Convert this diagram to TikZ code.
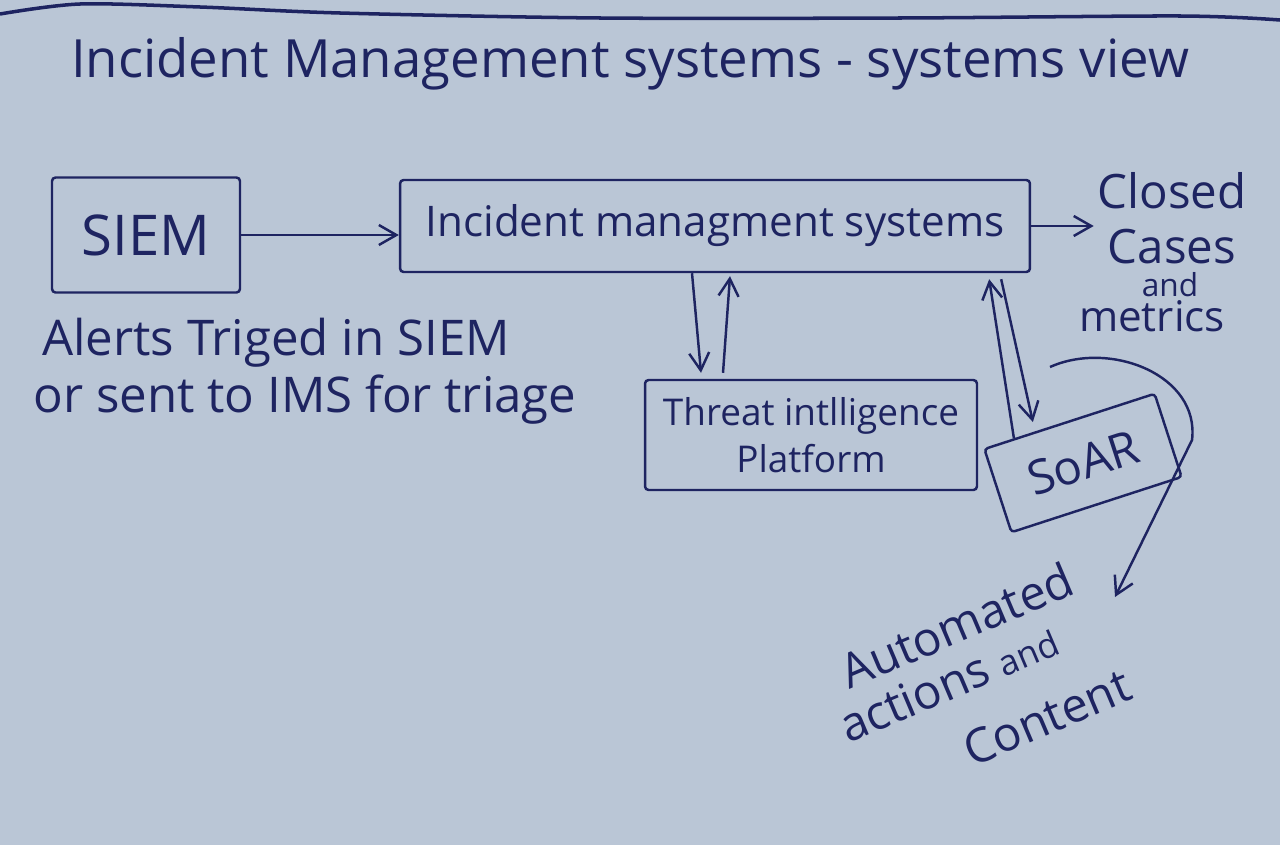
\documentclass[tikz,border=0pt]{standalone}
\usepackage{fontspec}
\setmainfont{Open Sans}
\usepackage{xcolor}
\definecolor{cBoard}{HTML}{BAC6D6}
\definecolor{cInk}{HTML}{1E2461}
\usepackage{tikz}
\usetikzlibrary{positioning,arrows.meta,calc}
\newcommand{\fsz}[2]{\fontsize{#1}{#2}\selectfont}
\tikzset{
  ink/.style={draw=cInk,line width=1.4pt},
  node-box/.style={ink,rounded corners=2pt,align=center,text=cInk,inner sep=0pt},
  note/.style={text=cInk,align=center,inner sep=0pt},
  arrow/.style={ink,-{Straight Barb[length=3.5mm,width=4mm]}},
}

\begin{document}
\begin{tikzpicture}[x=0.02cm,y=-0.02cm]
  \fill[cBoard] (0,0) rectangle (1280,845);
  \useasboundingbox (0,0) rectangle (1280,845);
  % top edge of the board
  \draw[ink,line width=2pt] plot[smooth] coordinates
    {(0,14) (80,4) (200,7) (340,13) (600,18) (900,18) (1180,16) (1280,20)};
  \node[note,font=\fsz{30}{34}]                 (title)   at (630,64)   {Incident Management systems - systems view};
  \node[node-box,minimum width=3.76cm,minimum height=2.3cm,font=\fsz{32}{38}]  (siem) at (146,235) {SIEM};
  \node[node-box,minimum width=12.6cm,minimum height=1.84cm,font=\fsz{24}{28}] (ims)  at (715,226) {Incident managment systems};
  \node[node-box,minimum width=6.64cm,minimum height=2.2cm,font=\fsz{21}{27}]  (tip)  at (811,435) {Threat intlligence\\Platform};
  \node[node-box,rotate=18,minimum width=3.58cm,minimum height=1.75cm,font=\fsz{27}{32}] (soar) at (1083,463) {SoAR};
  \node[note,font=\fsz{27}{31}]                 (closed)  at (1172,218) {Closed\\Cases};
  \node[note,font=\fsz{18}{20}]                 (and)     at (1170,285) {and};
  \node[note,font=\fsz{24}{28}]                 (metrics) at (1152,316) {metrics};
  \node[note,font=\fsz{28}{33}]                 (trig)    at (276,343)  {Alerts Triged in SIEM};
  \node[note,font=\fsz{28}{33}]                 (triage)  at (305,400)  {or sent to IMS for triage};
  \node[note,align=left,rotate=23,font=\fsz{27}{28}] (auto) at (975,682)
    {\hspace*{0.45cm}Automated\\actions {\fsz{20}{24}and}\\[12pt]\hspace*{2.1cm}Content};
  \coordinate (loop) at (1050,367);
  \coordinate (out)  at (1115,597);
  \draw[arrow] (siem.east) -- (ims.west |- siem.east);
  \draw[arrow,shorten >=2pt] (ims.east) -- (closed.west |- ims.east);
  \draw[arrow] ($(ims.south)+(-23,0)$) -- ($(tip.north)+(-110,-6)$);
  \draw[arrow] ($(tip.north)+(-88,-6)$) -- ($(ims.south)+(15,3)$);
  \draw[arrow] ($(soar.north west)!0.18!(soar.north east)$) -- ($(ims.south east)+(-42,6)$);
  \draw[arrow] ($(ims.south east)+(-30,6)$) -- ($(soar.north west)!0.29!(soar.north east)+(0,-10)$);
  \draw[arrow] (loop) .. controls (1110,340) and (1200,375) .. (1192,440) -- (out);
\end{tikzpicture}
\end{document}
